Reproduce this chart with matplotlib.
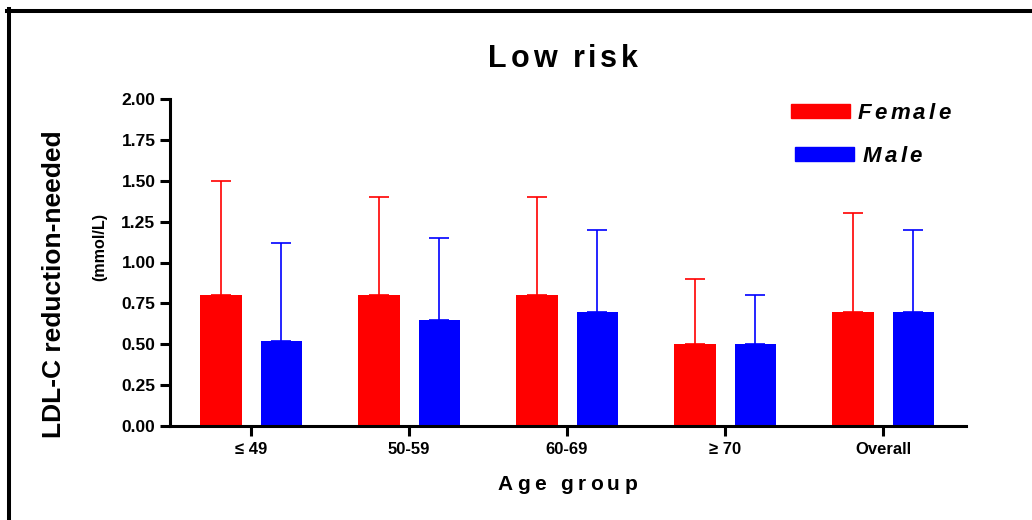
import matplotlib
matplotlib.use('Agg')
import matplotlib.pyplot as plt
import numpy as np
from matplotlib.font_manager import FontProperties, findfont, get_font
from matplotlib.transforms import offset_copy
from matplotlib.lines import Line2D
from matplotlib.patches import Rectangle

# ---------------- data ----------------
categories = ['\u2264 49', '50-59', '60-69', '\u2265 70', 'Overall']
female_mean = [0.80, 0.80, 0.80, 0.50, 0.70]
female_upper = [1.50, 1.40, 1.40, 0.90, 1.30]
male_mean = [0.52, 0.65, 0.70, 0.50, 0.70]
male_upper = [1.12, 1.15, 1.20, 0.80, 1.20]
series_names = ['Female', 'Male']
yticks = [0.00, 0.25, 0.50, 0.75, 1.00, 1.25, 1.50, 1.75, 2.00]
title_text = 'Low risk'
xlabel_text = 'Age group'
ylabel_line1 = 'LDL-C reduction-needed'
ylabel_line2 = '(mmol/L)'

FEMALE_C = '#FF0000'
MALE_C = '#0000FF'
FONT = 'Liberation Sans'

W, H = 1032, 520
fig = plt.figure(figsize=(W / 100, H / 100), dpi=100)
ax = fig.add_axes([170 / W, 1 - 426 / H, (966 - 170) / W, (426 - 99) / H])


def fx(x):
    return x / W


def fy(y):
    return 1 - y / H


def spaced_text(x, y, s, size, spacing_pt, style='normal', ha='center'):
    prop = FontProperties(family=FONT, weight='bold', style=style, size=size)
    font = get_font(findfont(prop))
    font.set_size(size, 72)
    advs = [font.load_char(ord(c)).linearHoriAdvance / 65536 for c in s]
    total = sum(advs) + spacing_pt * (len(s) - 1)
    pos = {'center': -total / 2, 'left': 0.0, 'right': -total}[ha]
    for c, a in zip(s, advs):
        if c != ' ':
            tr = offset_copy(fig.transFigure, fig=fig, x=pos, y=0, units='points')
            fig.text(x, y, c, fontproperties=prop, ha='left', va='baseline',
                     transform=tr)
        pos += a + spacing_pt


x = np.arange(len(categories))
bw = 0.26
off = 0.19

f_err = np.array(female_upper) - np.array(female_mean)
m_err = np.array(male_upper) - np.array(male_mean)

ax.bar(x - off, female_mean, width=bw, color=FEMALE_C, zorder=2)
ax.bar(x + off, male_mean, width=bw, color=MALE_C, zorder=2)
ax.errorbar(x - off, female_mean, yerr=[np.zeros(len(x)), f_err], fmt='none',
            ecolor=FEMALE_C, elinewidth=1.2, capsize=7.5, capthick=1.2, zorder=3)
ax.errorbar(x + off, male_mean, yerr=[np.zeros(len(x)), m_err], fmt='none',
            ecolor=MALE_C, elinewidth=1.2, capsize=7.5, capthick=1.2, zorder=3)

ax.set_xlim(-0.513, 4.525)
ax.set_ylim(0, 2.0)
ax.set_xticks(x)
ax.set_xticklabels(categories, fontfamily=FONT, fontweight='bold', fontsize=12)
ax.set_yticks(yticks)
ax.set_yticklabels(['%.2f' % v for v in yticks], fontfamily=FONT,
                   fontweight='bold', fontsize=12.5)
for s in ['top', 'right']:
    ax.spines[s].set_visible(False)
for s in ['left', 'bottom']:
    ax.spines[s].set_linewidth(2.2)
ax.tick_params(axis='both', width=2.2, length=7.5, direction='out', pad=3)
ax.tick_params(axis='x', pad=4)

# title and x label (letter-spaced)
spaced_text(fx(563), fy(67), title_text, 22, 2.6)
spaced_text(fx(567), fy(490), xlabel_text, 15, 3.2)

# y label (two lines, different sizes)
fig.text(fx(54), fy(284), ylabel_line1, rotation=90, ha='center', va='center',
         fontfamily=FONT, fontweight='bold', fontsize=19)
fig.text(fx(100), fy(247), ylabel_line2, rotation=90, ha='center', va='center',
         fontfamily=FONT, fontweight='bold', fontsize=11.6)

# legend
fig.add_artist(Rectangle((fx(791), fy(118)), 59 / W, 14 / H,
                         transform=fig.transFigure, color=FEMALE_C))
fig.add_artist(Rectangle((fx(795), fy(161)), 59 / W, 14 / H,
                         transform=fig.transFigure, color=MALE_C))
spaced_text(fx(858), fy(119), series_names[0], 16, 2.3, style='italic', ha='left')
spaced_text(fx(863), fy(162), series_names[1], 16, 2.3, style='italic', ha='left')

# frame lines
fig.add_artist(Line2D([fx(7), 1.0], [fy(11), fy(11)], transform=fig.transFigure,
                      color='black', lw=2.9, solid_capstyle='projecting'))
fig.add_artist(Line2D([fx(9), fx(9)], [0.0, fy(9)], transform=fig.transFigure,
                      color='black', lw=2.9, solid_capstyle='projecting'))

fig.savefig('out.png', dpi=100)
